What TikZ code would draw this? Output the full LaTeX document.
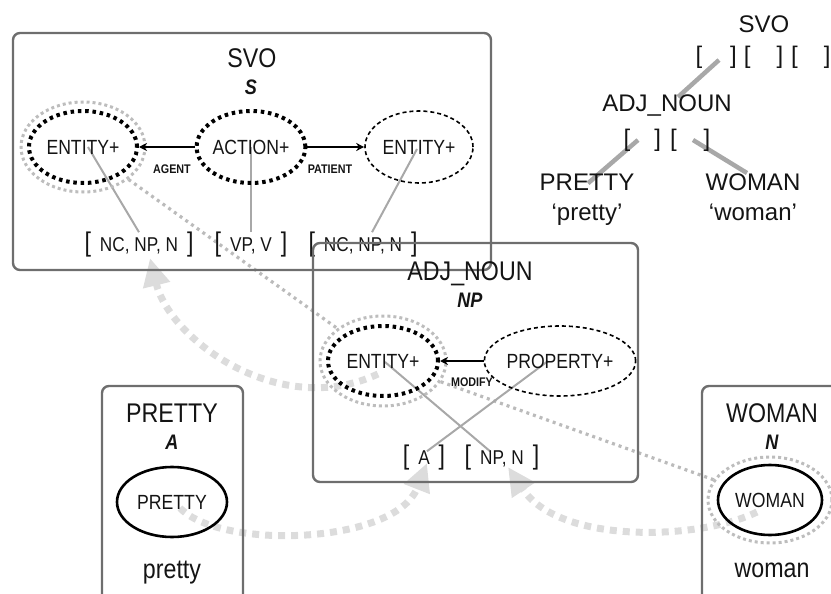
\documentclass[tikz,border=0pt]{standalone}
\usepackage{fontspec}
\setmainfont{Liberation Sans}[FakeStretch=0.86]
\newfontfamily\treefont{Liberation Sans}
\usetikzlibrary{shapes.geometric,arrows.meta}

\newcommand\fsz[1]{\fontsize{#1}{#1}\selectfont}
\newcommand\slotbr[1]{{\fsz{27}#1}}
\newcommand\slotrow[1]{\slotbr{[}\hspace{9pt}#1\hspace{9pt}\slotbr{]}}

\definecolor{ink}{HTML}{141414}
\definecolor{framecol}{HTML}{6E6E6E}
\definecolor{halocol}{HTML}{BDBDBD}
\definecolor{linkcol}{HTML}{A8A8A8}
\definecolor{faintcol}{HTML}{BBBBBB}
\definecolor{flowcol}{HTML}{DCDCDC}

\pgfdeclarelayer{bg}
\pgfsetlayers{bg,main}

\tikzset{
  every node/.style={inner sep=0pt, text=ink},
  panel/.style={draw=framecol, line width=2.4pt, rounded corners=7pt},
  title/.style={font=\fsz{27}, anchor=base},
  cat/.style={font=\fsz{21}\bfseries\itshape, anchor=base},
  ell/.style={ellipse, inner sep=0pt, minimum width=108pt, minimum height=72pt, font=\fsz{20.5}},
  thickdot/.style={ell, draw=black, line width=4pt, dash pattern=on 3.5pt off 3.8pt},
  thindash/.style={ell, draw=black, line width=1.6pt, dash pattern=on 4pt off 3pt},
  solidell/.style={ell, draw=black, line width=2.6pt},
  halo/.style={ellipse, inner sep=0pt, draw=halocol, line width=3pt, dash pattern=on 3pt off 3pt},
  rel/.style={draw=black, line width=1.5pt, -{Stealth[length=8pt,width=8pt]}},
  small/.style={font=\fsz{12.5}\bfseries},
  slot/.style={font=\fsz{20}},
  link/.style={draw=linkcol, line width=2pt},
  treelink/.style={draw=linkcol, line width=4.5pt},
  faint/.style={draw=faintcol, line width=3.2pt, dash pattern=on 3pt off 4pt},
  flow/.style={draw=flowcol, line width=7pt, dash pattern=on 7pt off 6pt,
    -{Triangle[length=28pt,width=26pt,fill=flowcol]}},
  tree/.style={font=\treefont\fsz{24}},
}

\begin{document}
\begin{tikzpicture}[x=1pt,y=-1pt]
\useasboundingbox (0,0) rectangle (831,594);

% ---------- SVO construction ----------
\draw[panel] (13,33) rectangle (491,270);
\node[title] (svoT) at (252,68) {SVO};
\node[cat] (svoC) at (251,95) {S};
\node[halo, minimum width=124pt, minimum height=90pt] (e1h) at (83,147) {};
\node[thickdot] (e1) at (83,147) {ENTITY+};
\node[thickdot] (act) at (251,147) {ACTION+};
\node[thindash] (e2) at (419,147) {ENTITY+};
\draw[rel] (act) -- (e1);
\draw[rel] (act) -- (e2);
\node[small] (agent) at (172,169) {AGENT};
\node[small] (patient) at (330,169) {PATIENT};
\node[slot] (s1) at (139,245) {\slotrow{NC, NP, N}};
\node[slot] (s2) at (251,245) {\slotrow{VP, V}};
\node[slot] (s3) at (363,245) {\slotrow{NC, NP, N}};

% ---------- ADJ_NOUN construction ----------
\draw[panel] (313,243) rectangle (638,482);
\node[title] (adjT) at (470,280) {ADJ\_NOUN};
\node[cat] (adjC) at (470,307) {NP};
\node[halo, minimum width=126pt, minimum height=90pt] (aeh) at (383,361) {};
\node[thickdot, minimum width=110pt, minimum height=70pt] (ae) at (383,361) {ENTITY+};
\node[thindash, minimum width=124pt, minimum height=70pt] (prop) at (560,361) {PROPERTY+};
\draw[rel] (prop) -- (ae);
\node[small] (modify) at (472,382) {MODIFY};
\node[slot] (sa) at (424,458) {\slotrow{A}};
\node[slot] (snp) at (502,458) {\slotrow{NP, N}};

% ---------- PRETTY construction ----------
\draw[panel] (102,386) rectangle (243,610);
\node[title] (prT) at (172,422) {PRETTY};
\node[cat] (prC) at (172,449) {A};
\node[solidell, minimum width=110pt, minimum height=70pt] (pe) at (172,502) {PRETTY};
\node[title] (prW) at (172,578) {pretty};

% ---------- WOMAN construction ----------
\draw[panel] (702,386) rectangle (860,610);
\node[title] (woT) at (772,422) {WOMAN};
\node[cat] (woC) at (772,449) {N};
\node[halo, minimum width=124pt, minimum height=86pt] (weh) at (770,500) {};
\node[solidell, minimum width=104pt, minimum height=70pt] (we) at (770,500) {WOMAN};
\node[title] (woW) at (772,577) {woman};

% ---------- small tree ----------
\node[tree, anchor=base] (tsvo) at (764,33) {SVO};
\node[tree] (tsvob) at (763,57) {[\hspace{28pt}]\hspace{7pt}[\hspace{26pt}]\hspace{8pt}[\hspace{26pt}]};
\node[tree, anchor=base] (tadj) at (667,112) {ADJ\_NOUN};
\node[tree] (tadjb) at (667,140) {[\hspace{24pt}]\hspace{9pt}[\hspace{27pt}]};
\node[tree, anchor=base] (tpr) at (587,190) {PRETTY};
\node[tree, anchor=base] (tprw) at (587,220) {‘pretty’};
\node[tree, anchor=base] (two) at (753,190) {WOMAN};
\node[tree, anchor=base] (twow) at (753,220) {‘woman’};
\coordinate (tslot1) at (719,60);
\coordinate (tslotA) at (638,140);
\coordinate (tslotN) at (693,140);

% ---------- background links ----------
\begin{pgfonlayer}{bg}
  % unification flows
  \draw[flow] ([shift={(-5,13)}]ae.center) .. controls (280,420) and (170,340) .. ([shift={(11,13)}]s1.center);
  \draw[flow] ([shift={(8,6)}]pe.center) .. controls (220,550) and (395,545) .. ([shift={(3,5)}]sa.center);
  \draw[flow] ([shift={(-13,12)}]we.center) .. controls (700,540) and (560,545) .. ([shift={(6,9)}]snp.center);
  % co-reference lines
  \draw[faint] (e1h) -- (aeh);
  \draw[faint] (aeh) -- (weh);
  % slot links
  \draw[link] ([shift={(5,0)}]e1.center) -- (s1.north);
  \draw[link] (act.center) -- (s2.north);
  \draw[link] ([shift={(-2,2)}]e2.center) -- ([shift={(9,0)}]s3.north);
  \draw[link] ([shift={(2,1)}]ae.center) -- ([shift={(-12,6)}]snp.north);
  \draw[link] ([shift={(-12,0)}]prop.center) -- ([shift={(3,6)}]sa.north);
  % tree links
  \draw[treelink] (tslot1) -- ([shift={(11,2)}]tadj.north);
  \draw[treelink] (tslotA) -- ([shift={(1,10)}]tpr.north);
  \draw[treelink] (tslotN) -- ([shift={(-6,0)}]two.north);
\end{pgfonlayer}
\end{tikzpicture}
\end{document}
